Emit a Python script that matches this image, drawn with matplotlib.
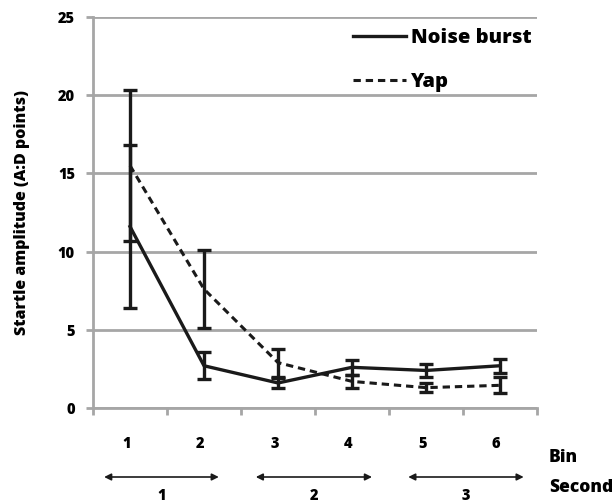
import matplotlib.pyplot as plt
import matplotlib.transforms as mtransforms
from matplotlib.lines import Line2D

# Data
bins = ['1', '2', '3', '4', '5', '6']
noise_mean = [11.6, 2.7, 1.6, 2.6, 2.4, 2.7]
noise_err = [5.2, 0.85, 0.3, 0.5, 0.4, 0.45]
yap_mean = [15.5, 7.6, 2.9, 1.7, 1.3, 1.45]
yap_err = [4.8, 2.5, 0.9, 0.4, 0.3, 0.5]
seconds = ['1', '2', '3']

plt.rcParams['font.family'] = ['Open Sans', 'DejaVu Sans']
plt.rcParams['font.weight'] = 'heavy'
W = 'heavy'

fig = plt.figure(figsize=(6.14, 5.04), dpi=100)
ax = fig.add_axes([0.1515, 0.1905, 0.7231, 0.7758])

x = list(range(len(bins)))
grid_col = '#a6a6a6'
ink = '#1a1a1a'
dash = (0, (2.4, 1.6))

# Error bars and lines
ax.errorbar(x, noise_mean, yerr=noise_err, color=ink, lw=2.4,
            elinewidth=2.4, capsize=5, capthick=2.4, zorder=3)
ax.errorbar(x, yap_mean, yerr=yap_err, color=ink, lw=2.2, ls=dash,
            elinewidth=2.4, capsize=5, capthick=2.4, zorder=3)

ax.set_xlim(-0.5, 5.5)
ax.set_ylim(0, 25)
ax.set_yticks([0, 5, 10, 15, 20, 25])
ax.yaxis.grid(True, color=grid_col, lw=2)
ax.set_axisbelow(True)
ax.set_xticks([i - 0.5 for i in range(len(bins) + 1)])
ax.set_xticklabels([])

for s in ['top', 'right']:
    ax.spines[s].set_visible(False)
for s in ['left', 'bottom']:
    ax.spines[s].set_color(grid_col)
    ax.spines[s].set_linewidth(2)
ax.tick_params(axis='both', color=grid_col, width=2, length=5, labelsize=10.5)
ax.tick_params(axis='y', pad=8)
for lab in ax.get_yticklabels():
    lab.set_fontweight(W)

ax.set_ylabel('Startle amplitude (A:D points)', fontsize=11.5, fontweight=W, labelpad=20)

# Bin labels under the axis
trans = mtransforms.blended_transform_factory(ax.transData, fig.transFigure)
for i, b in enumerate(bins):
    ax.text(i - 0.05, 1 - 444 / 504, b, transform=trans, ha='center', va='center',
            fontsize=10.5, fontweight=W)

# Seconds arrows
arrow_spans = [(-0.35, 1.20), (1.70, 3.27), (3.76, 5.32)]
for (a, b), s in zip(arrow_spans, seconds):
    ax.annotate('', xy=(b, 1 - 477 / 504), xytext=(a, 1 - 477 / 504),
                xycoords=trans, textcoords=trans,
                arrowprops=dict(arrowstyle='<|-|>', color=ink, lw=1.2,
                                mutation_scale=10, shrinkA=0, shrinkB=0))
    ax.text((a + b) / 2, 1 - 496 / 504, s, transform=trans, ha='center', va='center',
            fontsize=10.5, fontweight=W)

fig.text(549 / 614, 1 - 458 / 504, 'Bin', ha='left', va='center', fontsize=12.5, fontweight=W)
fig.text(549 / 614, 1 - 487 / 504, 'Second', ha='left', va='center', fontsize=12.5, fontweight=W)

handles = [Line2D([], [], color=ink, lw=2.4),
           Line2D([], [], color=ink, lw=2.2, ls=dash)]
ax.legend(handles, ['Noise burst', 'Yap'], loc='upper left', bbox_to_anchor=(0.545, 1.017),
          frameon=False, handlelength=2.65, handletextpad=0.2, labelspacing=1.15,
          prop={'size': 14.5, 'weight': W})

fig.savefig('out.png', dpi=100)
